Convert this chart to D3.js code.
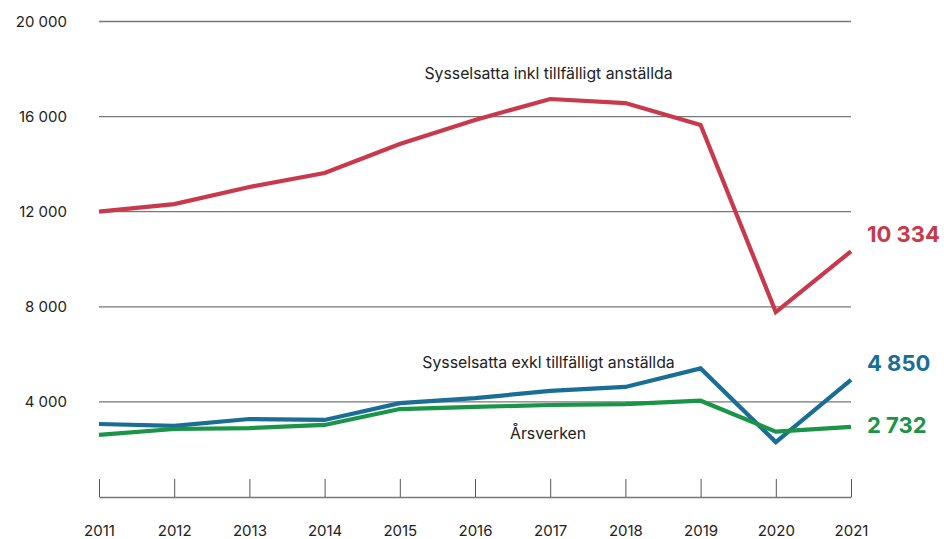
<!DOCTYPE html>
<html><head><meta charset="utf-8">
<script src="https://cdn.jsdelivr.net/npm/d3@7"></script>
<style>body{margin:0;background:#fff;}svg{display:block;font-family:Inter,sans-serif;}</style>
</head><body>
<svg id="c" width="944" height="539"></svg>
<script>
const years = [2011,2012,2013,2014,2015,2016,2017,2018,2019,2020,2021];
const inkl = [12000,12320,13040,13630,14850,15860,16740,16570,15650,7780,10334];
const exkl = [3070,2990,3280,3240,3950,4160,4460,4630,5410,2310,4930];
const arsverken = [2610,2860,2900,3030,3700,3790,3870,3910,4050,2750,2950];
const yTicks = [4000,8000,12000,16000,20000];
const endLabels = ["10 334","4 850","2 732"];
const seriesNames = ["Sysselsatta inkl tillfälligt anställda","Sysselsatta exkl tillfälligt anställda","Årsverken"];

const svg = d3.select("#c");
const x = d3.scaleLinear().domain([2011,2021]).range([99,851]);
const y = d3.scaleLinear().domain([0,20000]).range([497,21.5]);
const fmt = v => d3.format(",")(v).replace(/,/g," ");

// gridlines
svg.append("g").selectAll("line").data(yTicks).join("line")
  .attr("x1",99).attr("x2",851).attr("y1",d=>y(d)).attr("y2",d=>y(d))
  .attr("stroke","#777").attr("stroke-width",1.3);
svg.append("g").selectAll("text").data(yTicks).join("text")
  .attr("x",67).attr("y",d=>y(d)).attr("dy","0.35em").attr("text-anchor","end")
  .attr("font-size",15).attr("fill","#222").text(fmt);

// x axis
const xa = svg.append("g").attr("transform","translate(0,497)")
  .call(d3.axisTop(x).tickValues(years).tickFormat(d3.format("d")).tickSize(18).tickSizeOuter(0));
xa.select(".domain").attr("stroke","#777").attr("stroke-width",1.3);
xa.selectAll(".tick line").attr("stroke","#555");
xa.selectAll(".tick text").attr("y",33.5).attr("dy","0.35em").attr("font-size",15).attr("fill","#222").attr("font-family","Inter,sans-serif");

const line = d3.line().x((d,i)=>x(years[i])).y(d=>y(d));
const series = [
  {v:inkl,c:"#c8394b"},
  {v:exkl,c:"#1a6e96"},
  {v:arsverken,c:"#1a9446"}
];
series.forEach(s=>{
  svg.append("path").datum(s.v).attr("d",line).attr("fill","none")
    .attr("stroke",s.c).attr("stroke-width",4.2).attr("stroke-linejoin","miter");
});

// end labels
const endY = [234,363,425];
series.forEach((s,i)=>{
  svg.append("text").attr("x",867).attr("y",endY[i]).attr("dy","0.35em")
    .attr("font-size",22).attr("font-weight",700).attr("fill",s.c).text(endLabels[i]);
});

// series labels
const lab = [[548.5,73],[548.5,362],[548,433]];
seriesNames.forEach((n,i)=>{
  svg.append("text").attr("x",lab[i][0]).attr("y",lab[i][1]).attr("dy","0.35em")
    .attr("text-anchor","middle").attr("font-size",15.8).attr("fill","#222").text(n);
});
</script>
</body></html>
